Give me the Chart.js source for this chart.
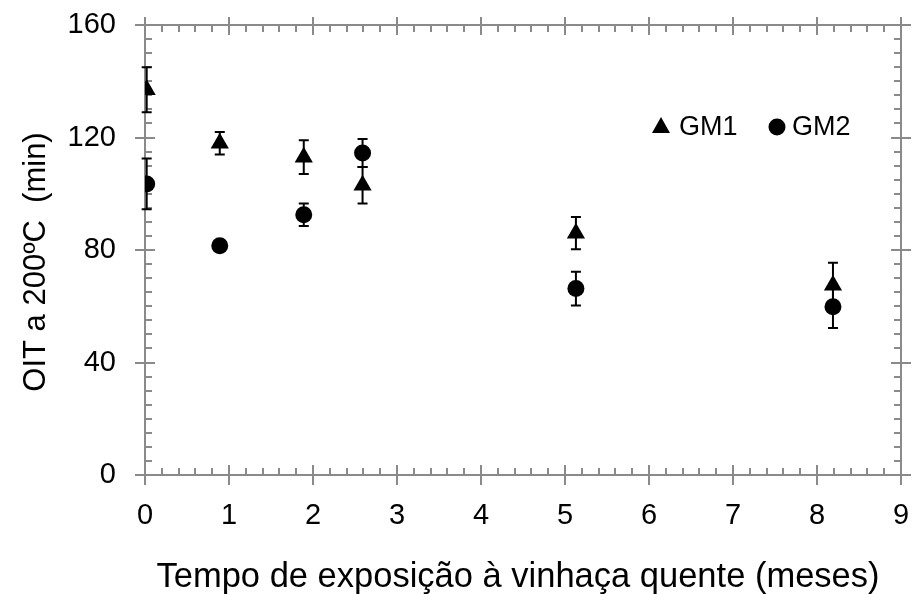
<!DOCTYPE html>
<html>
<head>
<meta charset="utf-8">
<script src="https://cdn.jsdelivr.net/npm/chart.js@4.4.1/dist/chart.umd.min.js"></script>
<style>
  html, body { margin: 0; padding: 0; background: #fff; }
  #wrap { width: 914px; height: 594px; }
</style>
</head>
<body>
<div id="wrap"><canvas id="grafico"></canvas></div>
<script>
// tempo de exposição (meses)
const meses = [0.02, 0.89, 1.89, 2.59, 5.13, 8.19];
// OIT a 200ºC (min) e desvios
const gm1 = [137, 118, 113, 103, 86, 67.5];
const gm1Erro = [8, 4, 6, 6.5, 5.7, 8];
const gm2 = [103.5, 81.5, 92.5, 114.5, 66.3, 59.8];
const gm2Erro = [9, 1.5, 4, 5, 6, 7.5];
const xTicks = [0, 1, 2, 3, 4, 5, 6, 7, 8, 9];
const yTicks = [0, 40, 80, 120, 160];
const tituloX = 'Tempo de exposição à vinhaça quente (meses)';
const tituloY = 'OIT a 200ºC  (min)';

const fonte = "'Liberation Sans', Arial, sans-serif";
const corEixo = "#8a8a8a";

function pontos(ys, erros){
    return meses.map((m, i) => ({x: m, y: ys[i], erro: erros[i]}));
}

// barras de erro verticais
const barrasErro = {
    id: 'barrasErro',
    afterDatasetsDraw(chart){
        const ctx = chart.ctx;
        const sx = chart.scales.x, sy = chart.scales.y;
        ctx.save();
        ctx.strokeStyle = '#000';
        ctx.lineWidth = 2;
        chart.data.datasets.forEach(ds => {
            ds.data.forEach(p => {
                if (!p.erro) return;
                const px = sx.getPixelForValue(p.x);
                const t = sy.getPixelForValue(p.y + p.erro);
                const b = sy.getPixelForValue(p.y - p.erro);
                ctx.beginPath();
                ctx.moveTo(px, t); ctx.lineTo(px, b);
                ctx.moveTo(px - 5, t); ctx.lineTo(px + 5, t);
                ctx.moveTo(px - 5, b); ctx.lineTo(px + 5, b);
                ctx.stroke();
            });
        });
        ctx.restore();
    }
};

// moldura com marcas principais e secundárias nos quatro lados
const moldura = {
    id: 'moldura',
    beforeDatasetsDraw(chart){
        const ctx = chart.ctx;
        const a = chart.chartArea;
        const sx = chart.scales.x, sy = chart.scales.y;
        ctx.save();
        ctx.strokeStyle = corEixo;
        ctx.lineWidth = 2;
        ctx.beginPath();
        // secundárias
        for (let v = 0; v <= 9.001; v += 0.2) {
            const px = Math.round(sx.getPixelForValue(v));
            ctx.moveTo(px, a.bottom); ctx.lineTo(px, a.bottom - 7);
            ctx.moveTo(px, a.top); ctx.lineTo(px, a.top + 7);
        }
        for (let v = 0; v <= 160.001; v += 5) {
            const py = Math.round(sy.getPixelForValue(v));
            ctx.moveTo(a.left, py); ctx.lineTo(a.left + 7, py);
            ctx.moveTo(a.right, py); ctx.lineTo(a.right - 7, py);
        }
        // principais
        xTicks.forEach(v => {
            const px = Math.round(sx.getPixelForValue(v));
            ctx.moveTo(px, a.bottom - 10); ctx.lineTo(px, a.bottom + 10);
            ctx.moveTo(px, a.top - 8); ctx.lineTo(px, a.top + 10);
        });
        yTicks.forEach(v => {
            const py = Math.round(sy.getPixelForValue(v));
            ctx.moveTo(a.left - 10, py); ctx.lineTo(a.left + 10, py);
            ctx.moveTo(a.right - 10, py); ctx.lineTo(a.right + 10, py);
        });
        ctx.rect(a.left, a.top, a.right - a.left, a.bottom - a.top);
        ctx.stroke();
        ctx.restore();
    }
};

// legenda dentro da área do gráfico e títulos dos eixos
const textos = {
    id: 'textos',
    afterDraw(chart){
        const ctx = chart.ctx;
        const y = 127;
        ctx.save();
        ctx.fillStyle = '#000';
        ctx.beginPath();
        ctx.moveTo(661, y - 10); ctx.lineTo(670, y + 6); ctx.lineTo(652, y + 6);
        ctx.closePath();
        ctx.fill();
        ctx.beginPath();
        ctx.arc(777, y, 8.5, 0, Math.PI * 2);
        ctx.fill();
        ctx.font = '27px ' + fonte;
        ctx.textBaseline = 'middle';
        ctx.fillText(chart.data.datasets[0].label, 679, y + 1);
        ctx.fillText(chart.data.datasets[1].label, 792, y + 1);

        ctx.textAlign = 'center';
        ctx.textBaseline = 'alphabetic';
        ctx.font = '34.5px ' + fonte;
        ctx.fillText(tituloX, 518, 587);

        ctx.translate(45, 262);
        ctx.rotate(-Math.PI / 2);
        ctx.font = '31px ' + fonte;
        ctx.fillText(tituloY, 0, 0);
        ctx.restore();
    }
};

new Chart(document.getElementById('grafico'), {
    type: 'scatter',
    data: {
        datasets: [
            {
                label: 'GM1',
                data: pontos(gm1, gm1Erro),
                pointStyle: 'triangle',
                pointRadius: 10.5,
                pointHoverRadius: 10.5,
                backgroundColor: '#000',
                borderColor: '#000',
                borderWidth: 0
            },
            {
                label: 'GM2',
                data: pontos(gm2, gm2Erro),
                pointStyle: 'circle',
                pointRadius: 8.5,
                pointHoverRadius: 8.5,
                backgroundColor: '#000',
                borderColor: '#000',
                borderWidth: 0
            }
        ]
    },
    options: {
        responsive: true,
        maintainAspectRatio: false,
        animation: false,
        layout: { padding: { top: 25, right: 13, left: 0, bottom: 0 } },
        plugins: {
            legend: { display: false },
            tooltip: { enabled: false }
        },
        scales: {
            x: {
                type: 'linear',
                min: 0, max: 9,
                afterFit: s => { s.height = 119; s.paddingLeft = 0; s.paddingRight = 0; },
                afterBuildTicks: s => { s.ticks = xTicks.map(v => ({value: v})); },
                grid: { display: false, drawTicks: false },
                border: { display: false },
                ticks: {
                    color: '#000',
                    padding: 24,
                    font: { family: fonte, size: 29 }
                }
            },
            y: {
                type: 'linear',
                min: 0, max: 160,
                afterFit: s => { s.width = 145; s.paddingTop = 0; s.paddingBottom = 0; },
                afterBuildTicks: s => { s.ticks = yTicks.map(v => ({value: v})); },
                grid: { display: false, drawTicks: false },
                border: { display: false },
                ticks: {
                    color: '#000',
                    padding: 29,
                    font: { family: fonte, size: 29 }
                }
            }
        }
    },
    plugins: [moldura, barrasErro, textos]
});
</script>
</body>
</html>
